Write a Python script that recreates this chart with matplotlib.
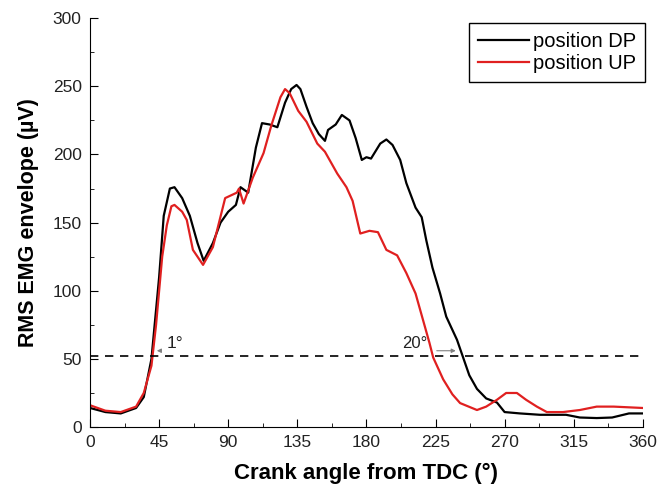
import numpy as np
import matplotlib.pyplot as plt

plt.rcParams['font.family'] = ['Liberation Sans', 'DejaVu Sans']

# crank angle (deg) and RMS EMG envelope (uV)
ang_dp = [0, 10, 20, 30, 35, 40, 45, 48, 52, 55, 60, 65, 70, 74, 80, 85, 90, 95,
          98, 103, 108, 112, 117, 122, 127, 131, 134.5, 137, 141, 145, 149, 153,
          155, 160, 164, 169, 173, 177, 180, 183, 189, 193, 197, 202, 206, 212,
          216, 219, 223, 228, 232, 239, 243, 247, 252, 258, 265, 270, 280, 293,
          310, 319, 330, 340, 351, 360]
emg_dp = [14, 11, 10, 14, 22, 50, 110, 155, 175, 176, 168, 155, 135, 122, 135,
          150, 158, 163, 176, 172, 205, 223, 222, 220, 238, 248, 251, 248, 235,
          223, 215, 210, 218, 222, 229, 225, 212, 196, 198, 197, 208, 211, 207,
          196, 179, 161, 154, 137, 117, 98, 81, 64, 51, 38, 28, 21, 18, 11, 10,
          9, 9, 7, 6.6, 7, 10, 10]

ang_up = [0, 10, 20, 30, 35, 40, 43, 47, 50, 53, 55, 60, 63, 67, 73.6, 80, 88,
          95.6, 97, 100, 106, 113, 118, 124, 127, 130, 135.6, 141, 148, 153,
          161, 167, 171, 176, 182, 187.5, 193, 200, 206, 212, 217, 221, 223.5,
          230, 236, 241, 252, 258, 265, 271, 278, 284, 291, 297.5, 308, 319,
          330, 341, 360]
emg_up = [16, 12, 11, 15, 25, 45, 75, 125, 148, 162, 163, 158, 152, 130, 119,
          132, 168, 172, 175, 164, 183, 201, 221, 242, 248, 245, 232, 224, 208,
          202, 186, 176, 166, 142, 144, 143, 130, 126, 113, 98, 78, 62, 51, 35,
          24, 17.6, 12.5, 15, 20, 25, 25, 20, 15, 11, 11, 12.5, 15, 15, 14]

threshold = 52

fig = plt.figure(figsize=(6.62, 4.92), dpi=100)
ax = fig.add_axes([0.136, 0.132, 0.835, 0.831])

ax.plot(ang_dp, emg_dp, color='black', lw=1.6, label='position DP')
ax.plot(ang_up, emg_up, color='#e02020', lw=1.6, label='position UP')
ax.axhline(threshold, color='black', lw=1.2, ls=(0, (5, 4)))

# onset / offset shift markers
ax.annotate('', xy=(43.5, 56), xytext=(47, 56),
            arrowprops=dict(arrowstyle='-|>', color='gray', lw=0.8, mutation_scale=6))
ax.text(50, 58, '1°', fontsize=12.5, color='#222222')
ax.annotate('', xy=(240, 56), xytext=(224, 56),
            arrowprops=dict(arrowstyle='-|>', color='gray', lw=0.8, mutation_scale=6))
ax.text(203, 58, '20°', fontsize=12, color='#222222')

ax.set_xlim(0, 360)
ax.set_ylim(0, 300)
ax.set_xticks(np.arange(0, 361, 45))
ax.set_xticks(np.arange(22.5, 360, 45), minor=True)
ax.set_yticks(np.arange(0, 301, 50))
ax.set_yticks(np.arange(25, 300, 50), minor=True)
ax.tick_params(direction='in', which='major', length=6, labelsize=12.5, pad=6,
               labelcolor='#222222')
ax.tick_params(direction='in', which='minor', length=3)
ax.spines['top'].set_visible(False)
ax.spines['right'].set_visible(False)

ax.set_xlabel('Crank angle from TDC (°)', fontsize=16, fontweight='bold', labelpad=9)
ax.set_ylabel('RMS EMG envelope (µV)', fontsize=15.5, fontweight='bold', labelpad=10)

leg = ax.legend(loc='upper right', fontsize=14.5, fancybox=False, framealpha=1,
                edgecolor='black', borderpad=0.45, handlelength=2.5,
                handletextpad=0.2, labelspacing=0.12, borderaxespad=0,
                bbox_to_anchor=(1.004, 0.988))
leg.get_frame().set_linewidth(1.0)

fig.savefig('out.png', dpi=100)
